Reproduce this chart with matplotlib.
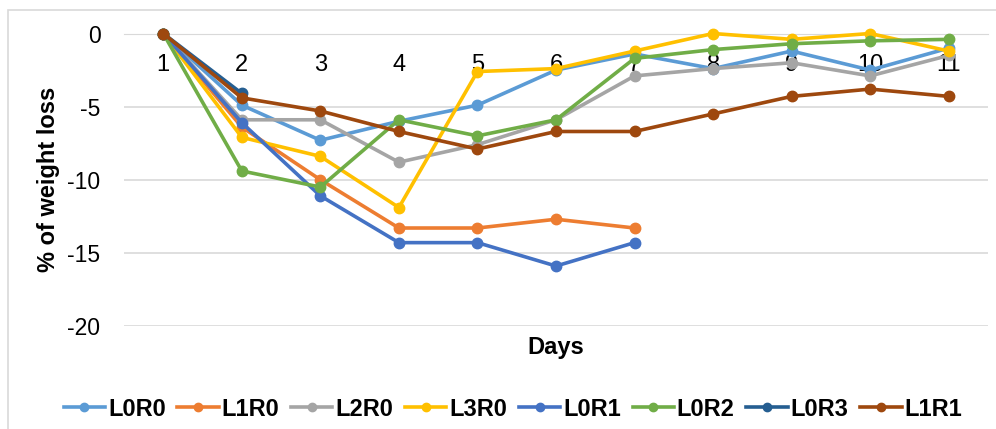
import matplotlib.pyplot as plt
from matplotlib.patches import Rectangle

plt.rcParams['font.family'] = ['Liberation Sans', 'DejaVu Sans']
plt.rcParams['axes.unicode_minus'] = False

days = [1, 2, 3, 4, 5, 6, 7, 8, 9, 10, 11]

# weight loss (%) per group, by day
L0R0 = [0, -4.9, -7.3, -6.0, -4.9, -2.5, -1.4, -2.4, -1.2, -2.5, -1.0]
L1R0 = [0, -6.4, -10.0, -13.3, -13.3, -12.7, -13.3]
L2R0 = [0, -5.9, -5.9, -8.8, -7.6, -5.9, -2.9, -2.4, -2.0, -2.9, -1.5]
L3R0 = [0, -7.1, -8.4, -11.9, -2.6, -2.4, -1.2, 0, -0.4, 0, -1.2]
L0R1 = [0, -6.1, -11.1, -14.3, -14.3, -15.9, -14.3]
L0R2 = [0, -9.4, -10.5, -5.9, -7.0, -5.9, -1.7, -1.1, -0.7, -0.5, -0.4]
L0R3 = [0, -4.1]
L1R1 = [0, -4.4, -5.3, -6.7, -7.9, -6.7, -6.7, -5.5, -4.3, -3.8, -4.3]

groups = ['L0R0', 'L1R0', 'L2R0', 'L3R0', 'L0R1', 'L0R2', 'L0R3', 'L1R1']
series = [L0R0, L1R0, L2R0, L3R0, L0R1, L0R2, L0R3, L1R1]
colors = ['#5B9BD5', '#ED7D31', '#A5A5A5', '#FFC000',
          '#4472C4', '#70AD47', '#255E91', '#9E480E']

fig = plt.figure(figsize=(9.96, 4.29), dpi=100)
ax = fig.add_axes([124 / 996, 1 - 326 / 429, 864 / 996, 292.5 / 429])

for name, vals, c in zip(groups, series, colors):
    ax.plot(days[:len(vals)], vals, color=c, lw=2.6, marker='o', ms=7.5,
            label=name, clip_on=False, zorder=3)

ax.set_xlim(0.5, 11.5)
ax.set_ylim(-20, 0)
ax.set_yticks([0, -5, -10, -15, -20])
ax.set_xticks(days)
ax.grid(axis='y', color='#D9D9D9', lw=1.2)
ax.set_axisbelow(True)
for s in ['top', 'right', 'left']:
    ax.spines[s].set_visible(False)
ax.spines['bottom'].set_position(('data', 0))
ax.spines['bottom'].set_color('#D9D9D9')
ax.tick_params(axis='x', length=0, pad=15, labelsize=17)
ax.tick_params(axis='y', length=0, pad=17, labelsize=16.5)

ax.set_xlabel('Days', fontsize=17, fontweight='bold')
ax.xaxis.set_label_coords(0.5, -0.035)
ax.set_ylabel('% of weight loss', fontsize=17, fontweight='bold')
ax.yaxis.set_label_coords(-64 / 864, 0.5)

leg = fig.legend(loc='center', bbox_to_anchor=(0.515, 1 - 409 / 429), ncol=8,
                 frameon=False, prop={'size': 17, 'weight': 'bold'},
                 handlelength=1.75, handletextpad=0.12, columnspacing=0.5,
                 borderaxespad=0, markerscale=0.8)

fig.patches.append(Rectangle((8 / 996, -0.1), 1.2, 1 - 10 / 429 + 0.1,
                             transform=fig.transFigure, fill=False,
                             edgecolor='#D9D9D9', lw=1.2))

fig.savefig('out.png', dpi=100)
